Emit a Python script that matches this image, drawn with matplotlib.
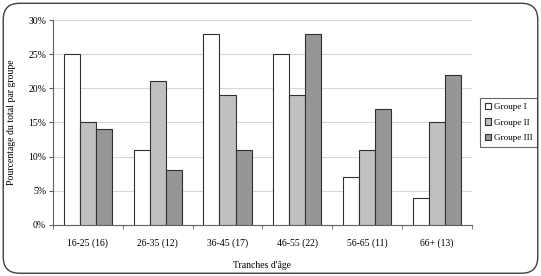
import matplotlib.pyplot as plt
from matplotlib.patches import FancyBboxPatch
import numpy as np

categories = ['16-25 (16)', '26-35 (12)', '36-45 (17)', '46-55 (22)', '56-65 (11)', '66+ (13)']
groupe_1 = [25, 11, 28, 25, 7, 4]
groupe_2 = [15, 21, 19, 19, 11, 15]
groupe_3 = [14, 8, 11, 28, 17, 22]
series_names = ['Groupe I', 'Groupe II', 'Groupe III']
colors = ['#ffffff', '#c0c0c0', '#969696']

plt.rcParams['font.family'] = ['Liberation Serif', 'DejaVu Serif']

fig = plt.figure(figsize=(5.41, 2.76), dpi=100)
ax = fig.add_axes([0.098, 0.185, 0.774, 0.7425])

# rounded outer frame
frame = FancyBboxPatch((0.006, 0.01), 0.988, 0.978, boxstyle='round,pad=0,rounding_size=0.03',
                       transform=fig.transFigure, facecolor='none', edgecolor='#404040',
                       linewidth=1.0, mutation_aspect=541 / 276)
fig.patches.append(frame)

x = np.arange(len(categories))
width = 0.23
for i, (vals, name, c) in enumerate(zip([groupe_1, groupe_2, groupe_3], series_names, colors)):
    ax.bar(x + (i - 1) * width, vals, width, color=c, edgecolor='#303030', linewidth=0.8,
           label=name, zorder=3)

ax.set_xlim(-0.5, len(categories) - 0.5)
ax.set_ylim(0, 30)
ax.set_yticks([0, 5, 10, 15, 20, 25, 30])
ax.set_yticklabels(['0%', '5%', '10%', '15%', '20%', '25%', '30%'], fontsize=7)
ax.set_xticks(x)
ax.set_xticklabels(categories, fontsize=7)
ax.set_xticks(np.arange(-0.5, len(categories)), minor=True)
ax.tick_params(axis='x', which='major', length=0, pad=10)
ax.tick_params(axis='x', which='minor', length=3, color='#606060')
ax.tick_params(axis='y', length=3, color='#606060', pad=2)
ax.yaxis.grid(True, color='#d8d8d8', linewidth=0.8, zorder=0)

for s in ['top', 'right']:
    ax.spines[s].set_visible(False)
ax.spines['left'].set_color('#606060')
ax.spines['bottom'].set_color('#606060')

ax.set_ylabel('Pourcentage du total par groupe', fontsize=7, labelpad=9)
ax.set_xlabel("Tranches d'âge", fontsize=7, labelpad=9)

leg = ax.legend(loc='center left', bbox_to_anchor=(1.02, 0.5), fontsize=6.6, frameon=True,
                fancybox=False, edgecolor='#404040', handlelength=0.7, handleheight=0.7,
                handletextpad=0.3, borderpad=0.5, labelspacing=0.75, borderaxespad=0)
leg.get_frame().set_linewidth(0.8)

plt.savefig('out.png', dpi=100)
